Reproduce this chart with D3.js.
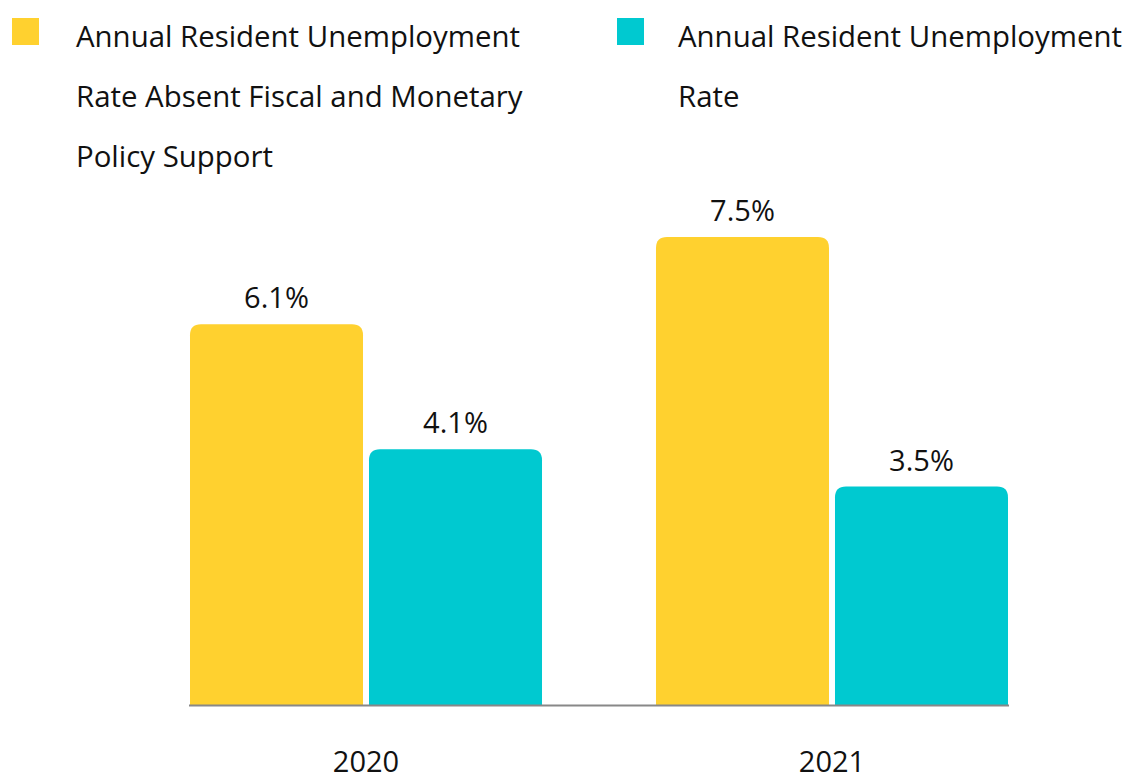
<!DOCTYPE html>
<html>
<head>
<meta charset="utf-8">
<script src="https://cdn.jsdelivr.net/npm/d3@7"></script>
<style>
  body { margin: 0; background: #fff; }
  text { font-family: "Open Sans", "Noto Sans", sans-serif; fill: #111; }
</style>
</head>
<body>
<div id="chart"></div>
<script>
// data
let years = ["2020", "2021"];
let seriesKeys = ["absent", "actual"];
let seriesNames = [
    ["Annual Resident Unemployment", "Rate Absent Fiscal and Monetary", "Policy Support"],
    ["Annual Resident Unemployment", "Rate"]
];
let absentValues = [6.1, 7.5];
let actualValues = [4.1, 3.5];
let colors = ["#FFD12F", "#00C9D0"];

let width = 1127, height = 774;
let svg = d3.select("#chart").append("svg")
    .attr("width", width)
    .attr("height", height);

let baseY = 705;

let x0 = d3.scaleBand()
    .domain(years)
    .range([190, 1008])
    .paddingInner(0.2446)
    .paddingOuter(0);

let x1 = d3.scaleBand()
    .domain(seriesKeys)
    .range([0, x0.bandwidth()])
    .paddingInner(0.0335);

let y = d3.scaleLinear()
    .domain([0, 7.5])
    .range([baseY, 237]);

let rows = [];
years.forEach((yr, i) => {
    rows.push({year: yr, key: "absent", value: absentValues[i], color: colors[0]});
    rows.push({year: yr, key: "actual", value: actualValues[i], color: colors[1]});
});

// bar with rounded top corners only
function topRounded(x, yTop, w, h, r) {
    r = Math.min(r, w / 2, h);
    return "M" + x + "," + (yTop + h) +
        "V" + (yTop + r) +
        "Q" + x + "," + yTop + " " + (x + r) + "," + yTop +
        "H" + (x + w - r) +
        "Q" + (x + w) + "," + yTop + " " + (x + w) + "," + (yTop + r) +
        "V" + (yTop + h) + "Z";
}

let bars = svg.append("g").attr("class", "bars");
bars.selectAll("path")
    .data(rows)
    .enter()
    .append("path")
    .attr("fill", d => d.color)
    .attr("d", d => {
        let bx = x0(d.year) + x1(d.key);
        return topRounded(bx, y(d.value), x1.bandwidth(), baseY - y(d.value), 11);
    });

bars.selectAll("text")
    .data(rows)
    .enter()
    .append("text")
    .attr("x", d => x0(d.year) + x1(d.key) + x1.bandwidth() / 2)
    .attr("y", d => y(d.value) - 16)
    .attr("text-anchor", "middle")
    .attr("font-size", 29)
    .text(d => d.value.toFixed(1) + "%");

// baseline axis
let xAxis = svg.append("g")
    .attr("transform", "translate(0," + baseY + ")")
    .call(d3.axisBottom(x0).tickSize(0).tickPadding(46));
xAxis.select(".domain")
    .attr("d", "M189,0.5H1009")
    .attr("stroke", "#888")
    .attr("stroke-width", 2);
xAxis.selectAll(".tick text")
    .attr("font-size", 29)
    .attr("font-family", "'Open Sans', 'Noto Sans', sans-serif")
    .attr("fill", "#111");

// legend
let legendX = [12, 617];
let legendTextX = [64, 61];
let legend = svg.append("g").attr("class", "legend");
seriesNames.forEach((lines, i) => {
    let g = legend.append("g").attr("transform", "translate(" + legendX[i] + ",18)");
    g.append("rect")
        .attr("width", 27)
        .attr("height", 27)
        .attr("fill", colors[i]);
    g.selectAll("text")
        .data(lines)
        .enter()
        .append("text")
        .attr("x", legendTextX[i])
        .attr("y", (d, j) => 29 + j * 60)
        .attr("font-size", 29.4)
        .text(d => d);
});
</script>
</body>
</html>
